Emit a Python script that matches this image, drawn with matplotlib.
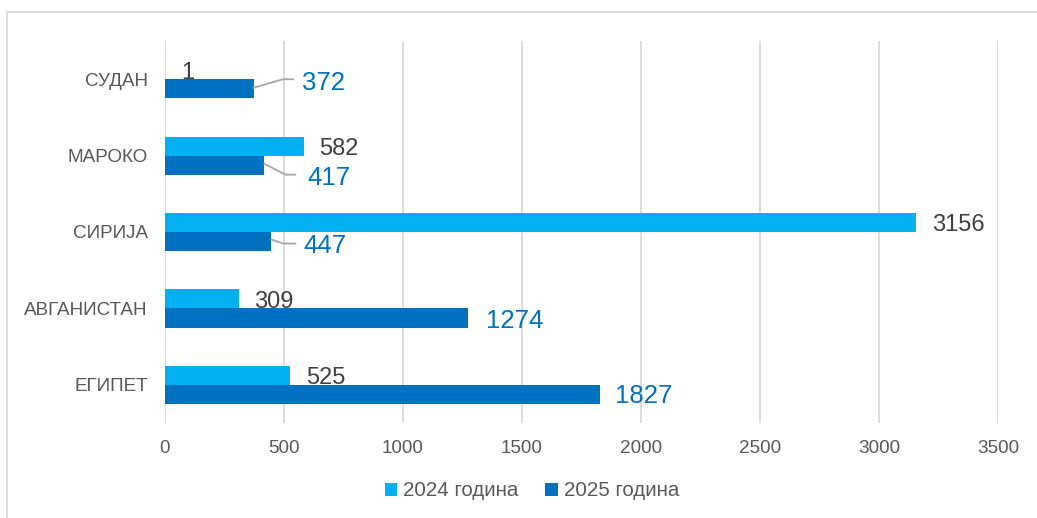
import matplotlib
matplotlib.use("Agg")
import matplotlib.pyplot as plt
from matplotlib.lines import Line2D
from matplotlib.patches import Patch
from matplotlib.transforms import IdentityTransform

plt.rcParams['font.family'] = ['Liberation Sans', 'DejaVu Sans']

categories = ['СУДАН', 'МАРОКО', 'СИРИЈА', 'АВГАНИСТАН', 'ЕГИПЕТ']
values_2024 = [1, 582, 3156, 309, 525]
values_2025 = [372, 417, 447, 1274, 1827]
series_names = ['2024 година', '2025 година']
x_ticks = [0, 500, 1000, 1500, 2000, 2500, 3000, 3500]

c24 = '#00B0F0'
c25 = '#0070C0'
txt = '#595959'
grid = '#D9D9D9'

W, H = 1037, 518
fig = plt.figure(figsize=(W / 100, H / 100), dpi=100)
ax = fig.add_axes([165 / W, (H - 423) / H, 833 / W, 382 / H])

h = 0.25
ypos = list(range(len(categories)))
y24 = [y - h / 2 for y in ypos]
y25 = [y + h / 2 for y in ypos]
ax.barh(y24, values_2024, height=h, color=c24, label=series_names[0], zorder=3)
ax.barh(y25, values_2025, height=h, color=c25, label=series_names[1], zorder=3)

ax.set_xlim(0, 3500)
ax.set_ylim(len(categories) - 0.5, -0.5)
ax.set_xticks(x_ticks)
ax.set_xticklabels([str(t) for t in x_ticks])
ax.set_yticks(ypos)
ax.set_yticklabels(categories)
ax.tick_params(axis='both', length=0, labelsize=13.6, colors=txt)
ax.tick_params(axis='x', pad=12)
ax.tick_params(axis='y', pad=12.5)
for s in ax.spines.values():
    s.set_visible(False)
ax.grid(axis='x', color=grid, linewidth=1.3, zorder=0)
ax.set_axisbelow(True)

# label offsets in pixels (dx right, dy down)
off24 = [(16, 3)] * 5
off25 = [(48, -5.5), (43, 12.5), (32, 4), (18, 3), (15, 2)]
for v, y, (dx, dy) in zip(values_2024, y24, off24):
    ax.annotate(str(v), xy=(v, y), xytext=(dx, -dy), textcoords='offset pixels',
                ha='left', va='center', fontsize=17, color='#404040', zorder=5)
for v, y, (dx, dy) in zip(values_2025, y25, off25):
    ax.annotate(str(v), xy=(v, y), xytext=(dx, -dy), textcoords='offset pixels',
                ha='left', va='center', fontsize=18.5, color=c25, zorder=5)

# leader lines (pixel offsets relative to bar end)
leaders = {0: [(0, -1), (29.5, -9.5), (39.5, -9.5)],
           1: [(0, -1.5), (21, 9.5), (31, 9.5)],
           2: [(0, -2), (12, 2), (24, 2)]}
for i, pts in leaders.items():
    bx, by = ax.transData.transform((values_2025[i], y25[i]))
    xs = [bx + p[0] for p in pts]
    ys = [by - p[1] for p in pts]
    fig.add_artist(Line2D(xs, ys, transform=IdentityTransform(), color='#A6A6A6', lw=1.3))

# outer border (top and left visible)
fig.add_artist(Line2D([6.5 / W, 6.5 / W, 1.2], [-0.2, 1 - 11.5 / H, 1 - 11.5 / H],
                      transform=fig.transFigure, color=grid, lw=1.3))

handles = [Patch(facecolor=c24, edgecolor='none'), Patch(facecolor=c25, edgecolor='none')]
leg = fig.legend(handles, series_names, loc='center', bbox_to_anchor=(532 / W, 1 - 491 / H),
                 ncol=2, frameon=False, fontsize=14.8, handlelength=0.6, handleheight=0.6,
                 handletextpad=0.3, columnspacing=1.3)
for t in leg.get_texts():
    t.set_color(txt)

fig.savefig('out.png', dpi=100)
